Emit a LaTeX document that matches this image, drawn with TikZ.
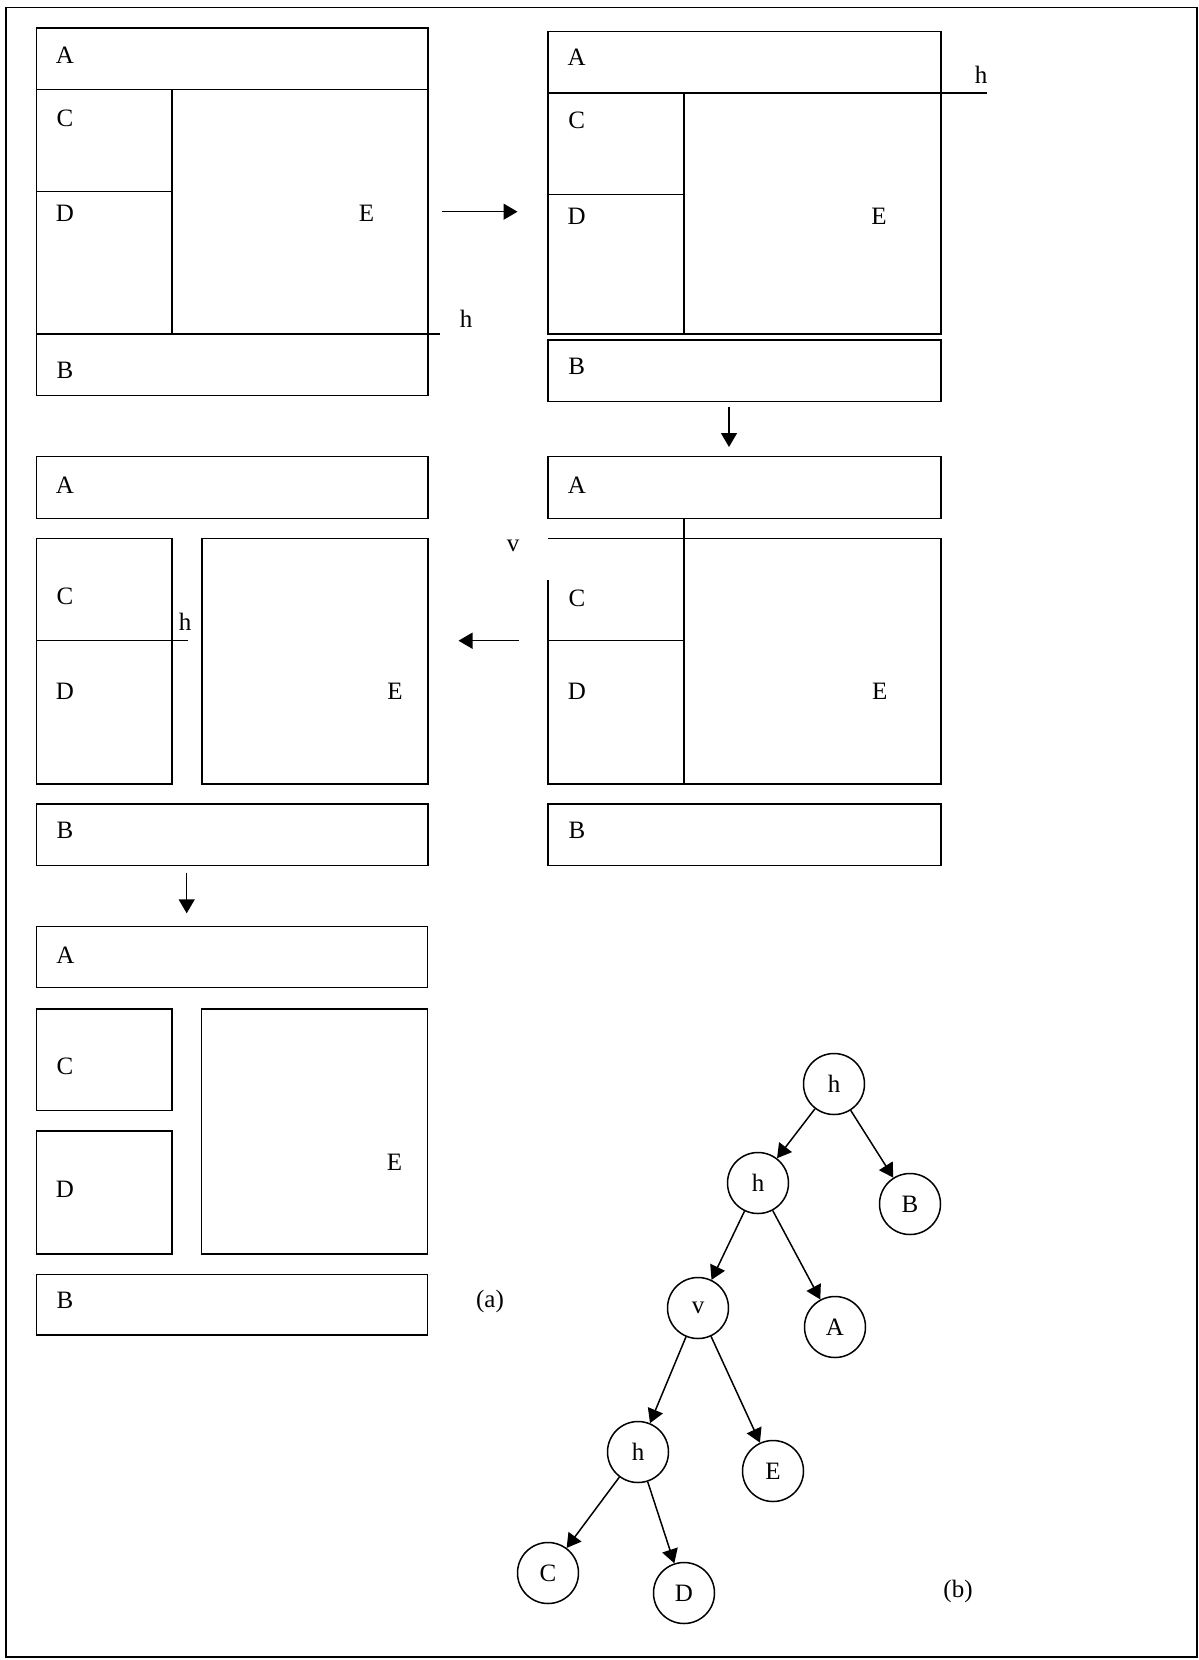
\documentclass[tikz,border=0pt]{standalone}
\usepackage{fontspec}
\setmainfont{Liberation Serif}
\usetikzlibrary{arrows.meta}

\begin{document}
\begin{tikzpicture}[x=0.5pt,y=-0.5pt,line width=0.75pt,
  font=\fontsize{12.5}{15}\selectfont,
  lbl/.style={inner sep=0pt},
  cell/.style={circle,draw,minimum size=30.5pt,inner sep=0pt},
  flow/.style={-{Triangle[length=7pt,width=8pt]}}]
 \useasboundingbox (0,0) rectangle (1199,1660);
 \draw (6,7.5) rectangle (1197,1657);
 % first cut
 \draw (36.4,28) rectangle (428,395.7);
 \draw (36.4,89.3)--(428,89.3) (171.8,89.3)--(171.8,334) (36.4,191.3)--(171.8,191.3);
 \draw (36.4,334)--(440,334);
 \node[lbl] (pa1) at (65,55) {A};
 \node[lbl] (pc1) at (65,118) {C};
 \node[lbl] (pd1) at (65,213) {D};
 \node[lbl] (pe1) at (366.6,213) {E};
 \node[lbl] (pb1) at (65,370) {B};
 \node[lbl] (ph1) at (466,319) {h};
 \coordinate (r1) at (442,211.7);
 \coordinate (r2) at (517.5,211.7);
 \draw[flow] (r1)--(r2);
 % second cut
 \draw (548,31.7) rectangle (941,93);
 \draw (548,93) rectangle (941,334);
 \draw (941,93)--(987,93) (684,93)--(684,334) (548,194.7)--(684,194.7);
 \draw (548,340) rectangle (941,401.7);
 \node[lbl] (pa2) at (576.6,57) {A};
 \node[lbl] (pc2) at (576.6,120.7) {C};
 \node[lbl] (pd2) at (576.6,216) {D};
 \node[lbl] (pe2) at (879,216) {E};
 \node[lbl] (pb2) at (576.6,366.7) {B};
 \node[lbl] (ph2) at (981,75) {h};
 \coordinate (d1) at (729,406.5);
 \coordinate (d2) at (729,447);
 \draw[flow] (d1)--(d2);
 % third cut
 \draw (548,456.7) rectangle (941,518.3);
 \draw (548,580)--(548,784)--(941,784)--(941,538.3)--(548,538.3);
 \draw (684,518.3)--(684,784) (548,640.7)--(684,640.7);
 \draw (548,804) rectangle (941,865.7);
 \node[lbl] (pa3) at (577,485) {A};
 \node[lbl] (pc3) at (577,598) {C};
 \node[lbl] (pd3) at (577,691.7) {D};
 \node[lbl] (pe3) at (879.7,691.7) {E};
 \node[lbl] (pb3) at (577,830.7) {B};
 \node[lbl] (pv3) at (513,546) {v};
 \coordinate (l1) at (518.6,640.7);
 \coordinate (l2) at (458.5,640.7);
 \draw[flow] (l1)--(l2);
 % fourth cut
 \draw (36.4,456.7) rectangle (428,518.3);
 \draw (36.4,538.3) rectangle (172.2,784);
 \draw (36.4,640.7)--(187.5,640.7);
 \draw (202,538.3) rectangle (428,784);
 \draw (36.4,804) rectangle (428,865.7);
 \node[lbl] (pa4) at (65,485) {A};
 \node[lbl] (pc4) at (65,596.7) {C};
 \node[lbl] (pd4) at (65,691.7) {D};
 \node[lbl] (pe4) at (395,691.7) {E};
 \node[lbl] (pb4) at (65,830.7) {B};
 \node[lbl] (ph4) at (185,621.7) {h};
 \coordinate (d3) at (186.7,872.7);
 \coordinate (d4) at (186.7,913.3);
 \draw[flow] (d3)--(d4);
 % all cut
 \draw (36.4,926.7) rectangle (427.7,987.7);
 \draw (36.4,1009) rectangle (172,1110.7);
 \draw (36.4,1131) rectangle (172,1254);
 \draw (201.7,1009) rectangle (427.7,1254);
 \draw (36.4,1274.3) rectangle (427.7,1335);
 \node[lbl] (pa5) at (65.3,955) {A};
 \node[lbl] (pc5) at (65,1066.7) {C};
 \node[lbl] (pd5) at (65,1189.3) {D};
 \node[lbl] (pe5) at (394.5,1162.7) {E};
 \node[lbl] (pb5) at (65,1300.7) {B};
 \node[lbl] (capa) at (490,1301.7) {(a)};
 % slicing tree
 \node[cell] (t1) at (834,1084) {h};
 \node[cell] (t2) at (758,1183) {h};
 \node[cell] (tb) at (910,1204) {B};
 \node[cell] (t3) at (698,1308) {v};
 \node[cell] (ta) at (835,1327) {A};
 \node[cell] (t4) at (638,1452) {h};
 \node[cell] (te) at (773,1471) {E};
 \node[cell] (tc) at (548,1573) {C};
 \node[cell] (td) at (684,1593) {D};
 \node[lbl] (capb) at (958,1591) {(b)};
 \draw[flow] (t1)--(t2);
 \draw[flow] (t1)--(tb);
 \draw[flow] (t2)--(t3);
 \draw[flow] (t2)--(ta);
 \draw[flow] (t3)--(t4);
 \draw[flow] (t3)--(te);
 \draw[flow] (t4)--(tc);
 \draw[flow] (t4)--(td);
\end{tikzpicture}
\end{document}
